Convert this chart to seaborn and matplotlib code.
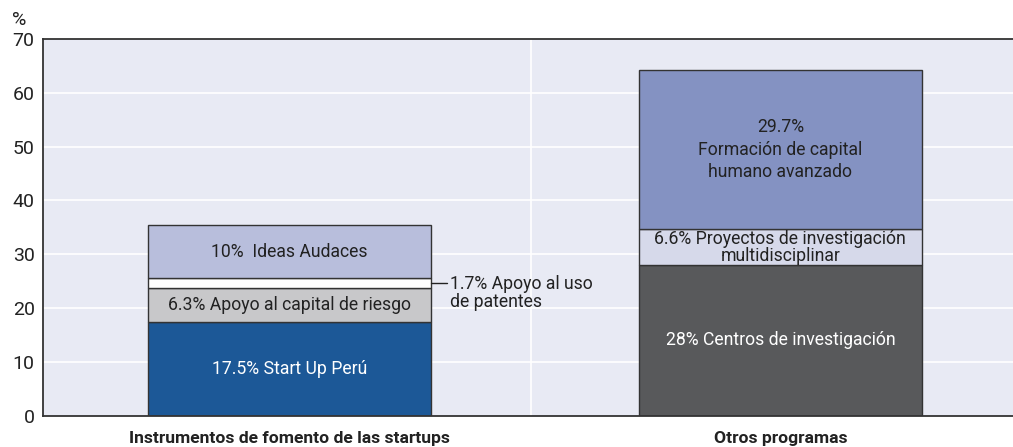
import pandas as pd
import seaborn as sns
import matplotlib.pyplot as plt
from matplotlib.ticker import FixedLocator

# categories and stacked segments (bottom -> top)
categories = ['Instrumentos de fomento de las startups', 'Otros programas']
seg1 = [17.5, 28.0]
seg2 = [6.3, 6.6]
seg3 = [1.7, 0.0]
seg4 = [10.0, 29.7]

colors1 = ['#1c5897', '#58595b']
colors2 = ['#c8c8ca', '#d6d9ea']
colors3 = ['#ffffff', '#ffffff']
colors4 = ['#b8bedc', '#8492c2']

labels1 = ['17.5% Start Up Perú', '28% Centros de investigación']
labels2 = ['6.3% Apoyo al capital de riesgo', '6.6% Proyectos de investigación\nmultidisciplinar']
labels4 = ['10%  Ideas Audaces', '29.7%\nFormación de capital\nhumano avanzado']
side_label = '1.7% Apoyo al uso\nde patentes'

df = pd.DataFrame({'cat': categories, 's1': seg1, 's2': seg2, 's3': seg3, 's4': seg4})
df['b2'] = df['s1']
df['b3'] = df['s1'] + df['s2']
df['b4'] = df['b3'] + df['s3']

sns.set_style('white')
plt.rcParams['font.family'] = ['Roboto', 'DejaVu Sans']

fig = plt.figure(figsize=(10.13, 4.47), dpi=100)
ax = fig.add_axes([0.0425, 0.07, 0.9575, 0.843])
ax.set_facecolor('#e8eaf4')

for y in range(10, 70, 10):
    ax.axhline(y, color='white', lw=1.2, zorder=0)
ax.axvline(0.492, color='white', lw=1.2, zorder=0)

w = 0.576
for col, bot, cols in [('s1', None, colors1), ('s2', 'b2', colors2),
                       ('s3', 'b3', colors3), ('s4', 'b4', colors4)]:
    for i, row in df.iterrows():
        if row[col] == 0:
            continue
        kw = {}
        if bot is not None:
            kw['bottom'] = row[bot]
        sns.barplot(x=[i], y=[row[col]], ax=ax, color=cols[i], width=w,
                    edgecolor='#333333', linewidth=1.0, native_scale=True,
                    saturation=1, zorder=2, **kw)

fs = 12.7
txt = dict(ha='center', va='center', fontsize=fs, zorder=3)
for i in range(2):
    ax.text(i, df.loc[i, 's1'] / 2, labels1[i], color='white', **txt)
    ax.text(i, df.loc[i, 'b2'] + df.loc[i, 's2'] / 2, labels2[i], color='#222222',
            linespacing=0.9, **txt)
    ax.text(i, df.loc[i, 'b4'] + df.loc[i, 's4'] / 2, labels4[i], color='#222222',
            linespacing=1.35, **txt)

ymid = df.loc[0, 'b3'] + df.loc[0, 's3'] / 2
ax.plot([w / 2, w / 2 + 0.033], [ymid, ymid], color='#222222', lw=1, zorder=3)
ax.text(w / 2 + 0.04, ymid + 1.4, side_label, ha='left', va='top', fontsize=fs,
        color='#222222', linespacing=0.95)

ax.set_xlim(-0.502, 1.474)
ax.set_ylim(0, 70)
ax.set_yticks(range(0, 71, 10))
ax.tick_params(axis='y', direction='in', length=5, width=1, color='#333333',
               labelsize=14, pad=6, labelcolor='#222222')
ax.set_xticks([0, 1])
ax.set_xticklabels(categories, fontweight='bold', fontsize=12.6, color='#222222')
ax.tick_params(axis='x', length=0, pad=11)
ax.xaxis.set_minor_locator(FixedLocator([0.492]))
ax.tick_params(axis='x', which='minor', direction='in', length=8, width=1, color='#555555')
ax.set_xlabel('')
ax.set_ylabel('')

for s in ['top', 'left', 'bottom']:
    ax.spines[s].set_color('#333333')
    ax.spines[s].set_linewidth(1.3)
ax.spines['right'].set_visible(False)

fig.text(0.012, 0.945, '%', fontsize=14, color='#222222')

fig.savefig('out.png', dpi=100)
